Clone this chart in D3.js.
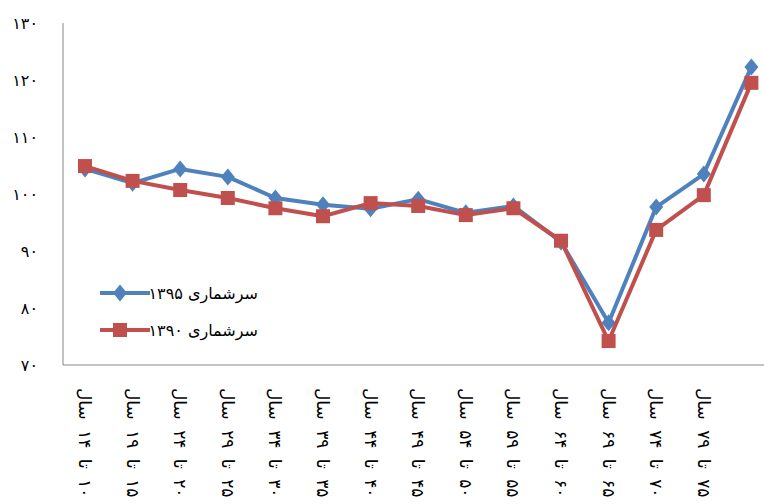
<!DOCTYPE html>
<html>
<head>
<meta charset="utf-8">
<script src="https://cdn.jsdelivr.net/npm/d3@7"></script>
<style>
  body { margin: 0; background: #fff; }
  svg { display: block; font-family: "DejaVu Sans", sans-serif; }
</style>
</head>
<body>
<svg id="chart" width="764" height="504"></svg>
<script>
// age groups (last one has no visible label in the reference)
const AGE_GROUPS = ['۱۰ تا ۱۴ سال', '۱۵ تا ۱۹ سال', '۲۰ تا ۲۴ سال', '۲۵ تا ۲۹ سال', '۳۰ تا ۳۴ سال',
  '۳۵ تا ۳۹ سال', '۴۰ تا ۴۴ سال', '۴۵ تا ۴۹ سال', '۵۰ تا ۵۴ سال', '۵۵ تا ۵۹ سال',
  '۶۰ تا ۶۴ سال', '۶۵ تا ۶۹ سال', '۷۰ تا ۷۴ سال', '۷۵ تا ۷۹ سال', ''];
const CENSUS_1395 = [104.4, 101.9, 104.4, 103.0, 99.3, 98.1, 97.4, 99.1, 96.7, 97.9, 91.6, 77.4, 97.7, 103.5, 122.3];
const CENSUS_1390 = [104.9, 102.3, 100.7, 99.3, 97.5, 96.1, 98.4, 97.9, 96.3, 97.5, 91.8, 74.2, 93.7, 99.8, 119.5];
const Y_TICKS = [70, 80, 90, 100, 110, 120, 130];
const SERIES_NAMES = ['سرشماری ۱۳۹۵', 'سرشماری ۱۳۹۰'];
const COLORS = ['#4F81BD', '#C0504D'];

const fa = n => String(n).replace(/\d/g, d => '۰۱۲۳۴۵۶۷۸۹'[d]);
const RLM = '\u200F';

const svg = d3.select('#chart');
const plotLeft = 63, plotTop = 23, plotBottom = 365;

const x = d3.scalePoint()
  .domain(d3.range(AGE_GROUPS.length))
  .range([85, 85 + 14 * 47.6]);
const y = d3.scaleLinear().domain([70, 130]).range([plotBottom, plotTop]);

// axes lines
svg.append('line').attr('x1', plotLeft).attr('x2', plotLeft).attr('y1', plotTop).attr('y2', plotBottom)
  .attr('stroke', '#868686').attr('stroke-width', 1);
svg.append('line').attr('x1', plotLeft).attr('x2', 764).attr('y1', plotBottom).attr('y2', plotBottom)
  .attr('stroke', '#868686').attr('stroke-width', 1);

// y tick labels
svg.selectAll('.ytick').data(Y_TICKS).enter().append('text')
  .attr('class', 'ytick')
  .attr('x', 38).attr('y', d => y(d))
  .attr('dy', '0.35em')
  .attr('text-anchor', 'end')
  .attr('font-size', 16)
  .attr('fill', '#000')
  .text(d => fa(d));

// x category labels, rotated
svg.selectAll('.xlab').data(AGE_GROUPS).enter().append('text')
  .attr('class', 'xlab')
  .attr('transform', (d, i) => `translate(${x(i)},388) rotate(90)`)
  .attr('dy', '0.35em')
  .attr('text-anchor', 'start')
  .attr('font-size', 17)
  .attr('word-spacing', 5)
  .attr('fill', '#000')
  .text(d => d ? RLM + d : '');

const line = d3.line().x((d, i) => x(i)).y(d => y(d));
// rhombus marker, a bit taller than wide
const rhombus = {
  draw(ctx, size) {
    const w = 7, h = 8.5;
    ctx.moveTo(0, -h); ctx.lineTo(w, 0); ctx.lineTo(0, h); ctx.lineTo(-w, 0); ctx.closePath();
  }
};
const diamond = d3.symbol().type(rhombus);

function drawSeries(vals, color, marker) {
  svg.append('path').datum(vals)
    .attr('d', line).attr('fill', 'none')
    .attr('stroke', color).attr('stroke-width', 4).attr('stroke-linejoin', 'round');
  const g = svg.append('g');
  if (marker === 'diamond') {
    g.selectAll('path').data(vals).enter().append('path')
      .attr('d', diamond)
      .attr('transform', (d, i) => `translate(${x(i)},${y(d)})`)
      .attr('fill', color);
  } else {
    g.selectAll('rect').data(vals).enter().append('rect')
      .attr('x', (d, i) => x(i) - 7).attr('y', d => y(d) - 7)
      .attr('width', 14).attr('height', 14)
      .attr('fill', color);
  }
}

drawSeries(CENSUS_1395, COLORS[0], 'diamond');
drawSeries(CENSUS_1390, COLORS[1], 'square');

// legend
const legend = svg.append('g');
SERIES_NAMES.forEach((name, k) => {
  const ly = 293 + k * 37;
  legend.append('line').attr('x1', 100).attr('x2', 150).attr('y1', ly).attr('y2', ly)
    .attr('stroke', COLORS[k]).attr('stroke-width', 4);
  if (k === 0) {
    legend.append('path').attr('d', diamond)
      .attr('transform', `translate(120,${ly})`).attr('fill', COLORS[k]);
  } else {
    legend.append('rect').attr('x', 113).attr('y', ly - 7).attr('width', 14).attr('height', 14)
      .attr('fill', COLORS[k]);
  }
  legend.append('text')
    .attr('x', 258).attr('y', ly).attr('dy', '0.35em')
    .attr('text-anchor', 'end')
    .attr('font-size', 16)
    .attr('fill', '#000')
    .text(RLM + name);
});
</script>
</body>
</html>
